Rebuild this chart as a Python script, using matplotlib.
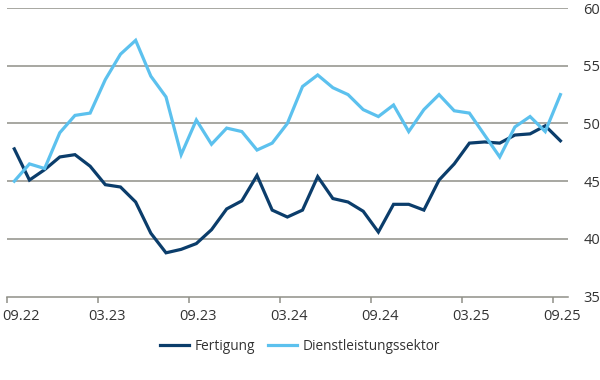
import matplotlib
matplotlib.use("Agg")
import matplotlib.pyplot as plt
import numpy as np

months = ["09.22","10.22","11.22","12.22","01.23","02.23","03.23","04.23","05.23","06.23",
          "07.23","08.23","09.23","10.23","11.23","12.23","01.24","02.24","03.24","04.24",
          "05.24","06.24","07.24","08.24","09.24","10.24","11.24","12.24","01.25","02.25",
          "03.25","04.25","05.25","06.25","07.25","08.25","09.25"]
fertigung = [47.8, 45.1, 46.0, 47.1, 47.3, 46.3, 44.7, 44.5, 43.2, 40.5,
             38.8, 39.1, 39.6, 40.8, 42.6, 43.3, 45.5, 42.5, 41.9, 42.5,
             45.4, 43.5, 43.2, 42.4, 40.6, 43.0, 43.0, 42.5, 45.1, 46.5,
             48.3, 48.4, 48.3, 49.0, 49.1, 49.8, 48.5]
dienstleistung = [45.0, 46.5, 46.1, 49.2, 50.7, 50.9, 53.8, 56.0, 57.2, 54.1,
                  52.3, 47.3, 50.3, 48.2, 49.6, 49.3, 47.7, 48.3, 50.0, 53.2,
                  54.2, 53.1, 52.5, 51.2, 50.6, 51.6, 49.3, 51.2, 52.5, 51.1,
                  50.9, 49.0, 47.1, 49.7, 50.6, 49.3, 52.5]
tick_labels = ["09.22", "03.23", "09.23", "03.24", "09.24", "03.25", "09.25"]
y_ticks = [35, 40, 45, 50, 55, 60]

plt.rcParams['font.family'] = ['Open Sans', 'DejaVu Sans']

fig = plt.figure(figsize=(6, 3.8), dpi=100)
ax = fig.add_axes([6.7/600, 83.3/380, (568-6.7)/600, (296.7-8)/380])

x = np.arange(len(months))
dark = "#0b3d6b"
light = "#5cc1ee"
grid = "#8f8f87"
txt = "#333333"

ax.plot(x, fertigung, color=dark, lw=2.3, label="Fertigung", solid_joinstyle="miter", zorder=3)
ax.plot(x, dienstleistung, color=light, lw=2.3, label="Dienstleistungssektor", solid_joinstyle="miter", zorder=3)

ax.set_xlim(-0.5, len(months) - 0.5)
ax.set_ylim(35, 60)

for v in y_ticks[1:]:
    ax.axhline(v, color=grid, lw=1.1, zorder=1)

# tick marks at category boundaries, labels slightly right of them
idx = [months.index(t) for t in tick_labels]
ax.set_xticks([i - 0.5 for i in idx])
ax.set_xticklabels([])
ax.tick_params(axis="x", which="major", length=4.5, width=1.1, color=grid)
label_pos = [i + 0.12 for i in idx]
label_pos[0] = idx[0] + 0.45
ax.set_xticks(label_pos, minor=True)
ax.set_xticklabels(tick_labels, minor=True, fontsize=10.5, color=txt)
ax.tick_params(axis="x", which="minor", length=0, pad=9)

ax.yaxis.tick_right()
ax.set_yticks(y_ticks)
ax.set_yticklabels([str(v) for v in y_ticks], fontsize=10.5, color=txt)
ax.tick_params(axis="y", length=0, pad=11)

for s in ["top", "left", "right"]:
    ax.spines[s].set_visible(False)
ax.spines["bottom"].set_color(grid)
ax.spines["bottom"].set_linewidth(1.1)

fig.legend(loc="center", bbox_to_anchor=(0.5, 1 - 346/380), ncol=2, frameon=False,
           fontsize=9.8, handlelength=2.1, columnspacing=1.0, handletextpad=0.4,
           labelcolor=txt)

fig.savefig("out.png", dpi=100)
